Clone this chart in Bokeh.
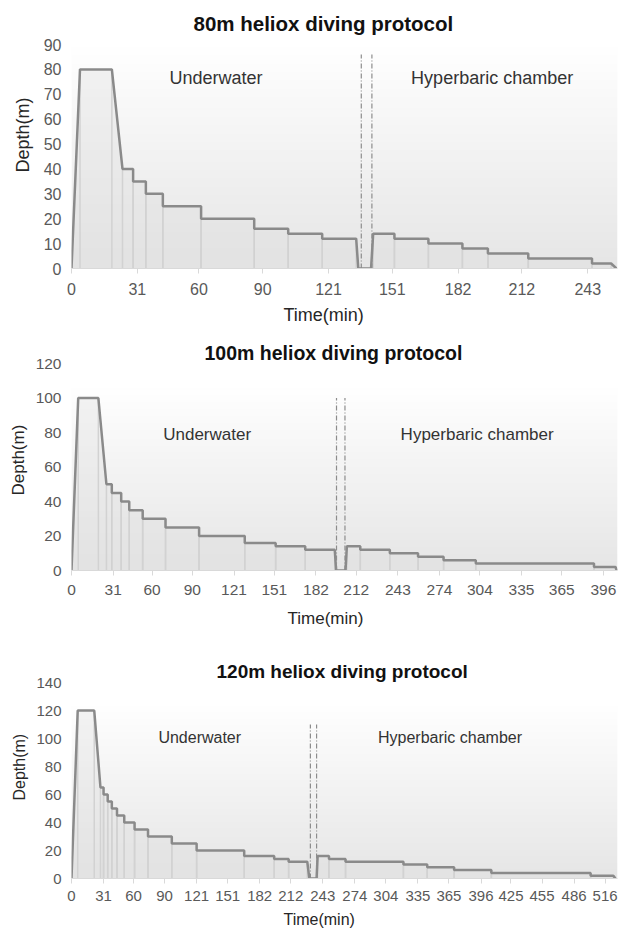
import numpy as np
from bokeh.plotting import figure
from bokeh.layouts import column
from bokeh.models import Range1d, FixedTicker, Title
from bokeh.core.properties import value
from bokeh.embed import file_html
from bokeh.resources import INLINE

FONT = "Liberation Sans"

# ---------------- data ----------------
# 80 m heliox protocol (time in min, depth in m)
time_80 = [0, 4, 19, 24, 29, 29, 35, 35, 43, 43, 61, 61, 86, 86, 102, 102, 118, 118,
           134, 135, 141, 142, 152, 152, 168, 168, 184, 184, 196, 196, 215, 215,
           245, 245, 254, 256.5]
depth_80 = [0, 80, 80, 40, 40, 35, 35, 30, 30, 25, 25, 20, 20, 16, 16, 14, 14, 12,
            12, 0, 0, 14, 14, 12, 12, 10, 10, 8, 8, 6, 6, 4,
            4, 2, 2, 0]
transfer_80 = [136.4, 141.4]
transfer_top_80 = [86, 86]
ticks_80 = [0, 31, 60, 90, 121, 151, 182, 212, 243]

# 100 m heliox protocol
time_100 = [0, 5, 20, 26, 30, 30, 37, 37, 43, 43, 53, 53, 70, 70, 95, 95, 129, 129,
            152, 152, 174, 174, 196, 197, 204, 205, 215, 215, 237, 237, 258, 258,
            277, 277, 301, 301, 389, 389, 405, 406]
depth_100 = [0, 100, 100, 50, 50, 45, 45, 40, 40, 35, 35, 30, 30, 25, 25, 20, 20, 16,
             16, 14, 14, 12, 12, 0, 0, 14, 14, 12, 12, 10, 10, 8,
             8, 6, 6, 4, 4, 2, 2, 0]
transfer_100 = [197.3, 203.6]
transfer_top_100 = [100, 100]
ticks_100 = [0, 31, 60, 90, 121, 151, 182, 212, 243, 274, 304, 335, 365, 396]

# 120 m heliox protocol
time_120 = [0, 6, 22, 28, 31, 31, 35, 35, 39, 39, 44, 44, 51, 51, 61, 61, 74, 74,
            97, 97, 121, 121, 167, 167, 196, 196, 210, 210, 228, 230, 237, 238,
            249, 249, 265, 265, 321, 321, 344, 344, 370, 370, 406, 406, 502, 502,
            524, 526]
depth_120 = [0, 120, 120, 65, 65, 60, 60, 55, 55, 50, 50, 45, 45, 40, 40, 35, 35, 30,
             30, 25, 25, 20, 20, 16, 16, 14, 14, 12, 12, 0, 0, 16,
             16, 14, 14, 12, 12, 10, 10, 8, 8, 6, 6, 4, 4, 2,
             2, 0]
transfer_120 = [231, 237]
transfer_top_120 = [110, 110]
ticks_120 = [0, 31, 60, 90, 121, 151, 182, 212, 243, 274, 304, 335, 365, 396, 425,
             455, 486, 516]

phase_labels = ["Underwater", "Hyperbaric chamber"]
phase_x_80, phase_y_80 = [68, 198], [76.7, 76.7]
phase_x_100, phase_y_100 = [101, 302], [79, 79]
phase_x_120, phase_y_120 = [124, 366], [100.7, 100.7]


def gradient_image(n=80, bottom=230):
    vals = np.linspace(bottom, 255, n).astype(np.uint32)
    img = vals | (vals << 8) | (vals << 16) | (np.uint32(255) << 24)
    return img.reshape(n, 1)


def panel(title, t, d, tr, tr_top, ticks, px, py, xmax, ymax, ystep, grad_top,
          height, borders, title_off, title_standoff, xl_off, xl_standoff,
          yl_off, yl_standoff, fs_title, fs_label, fs_tick, tick_standoff):
    left, right, top, bottom = borders
    p = figure(width=625, height=height, output_backend="svg", toolbar_location=None,
               x_range=Range1d(0, xmax), y_range=Range1d(0, ymax),
               min_border_left=left, min_border_right=right,
               min_border_top=top, min_border_bottom=bottom)
    p.outline_line_color = None
    p.background_fill_color = "white"
    p.border_fill_color = "white"
    p.grid.visible = False

    # plot-area gradient
    p.image_rgba(image=[gradient_image()], x=0, y=0, dw=xmax, dh=grad_top)

    # profile area, drop lines, profile
    p.varea(x=t, y1=[0] * len(t), y2=d, fill_color="#dcdcdc", fill_alpha=0.35)
    tt = [a for a, b in zip(t, d) if b > 0]
    dd = [b for b in d if b > 0]
    p.segment(x0=tt, y0=[0] * len(tt), x1=tt, y1=dd, line_color="#d2d2d2", line_width=1.5)
    p.line(t, d, line_color="#8a8a8a", line_width=2.5)

    # transfer (dash-dot) markers
    p.segment(x0=tr, y0=[0, 0], x1=tr, y1=tr_top, line_color="#8c8c8c",
              line_width=1.2, line_dash="5 2 1 2")

    p.text(x=px, y=py, text=phase_labels, text_align="center", text_baseline="middle",
           text_font=value(FONT), text_font_size=f"{fs_label}px", text_color="#333333")

    # axes
    xa = p.xaxis[0]
    xa.ticker = FixedTicker(ticks=ticks)
    xa.axis_line_color = "#d9d9d9"
    xa.major_tick_line_color = "#d9d9d9"
    xa.major_tick_out = 5
    xa.major_tick_in = 0
    xa.minor_tick_line_color = None
    xa.major_label_standoff = tick_standoff
    xa.major_label_text_font = FONT
    xa.major_label_text_font_size = f"{fs_tick}px"
    xa.major_label_text_color = "#595959"

    ya = p.yaxis[0]
    ya.ticker = FixedTicker(ticks=list(range(0, ymax + 1, ystep)))
    ya.axis_line_color = None
    ya.major_tick_line_color = None
    ya.minor_tick_line_color = None
    ya.major_tick_out = 0
    ya.major_label_standoff = 10
    ya.major_label_text_font = FONT
    ya.major_label_text_font_size = f"{fs_tick}px"
    ya.major_label_text_color = "#595959"

    p.title = Title(text=title, align="left", offset=title_off, standoff=title_standoff,
                    text_font=FONT, text_font_size=f"{fs_title}px",
                    text_font_style="bold", text_color="#111111")
    p.add_layout(Title(text="Time(min)", align="left", offset=xl_off,
                       standoff=xl_standoff, text_font=FONT,
                       text_font_size=f"{fs_label}px", text_font_style="normal",
                       text_color="#262626"), "below")
    p.add_layout(Title(text="Depth(m)", align="left", offset=yl_off,
                       standoff=yl_standoff, text_font=FONT,
                       text_font_size=f"{fs_label}px", text_font_style="normal",
                       text_color="#262626"), "left")
    return p


p1 = panel("80m heliox diving protocol", time_80, depth_80, transfer_80, transfer_top_80,
           ticks_80, phase_x_80, phase_y_80, 257, 90, 10, 90,
           334, (71, 5, 43, 66), 122, 19, 212, 11, 96, 15, 20.5, 18, 16, 9)
p2 = panel("100m heliox diving protocol", time_100, depth_100, transfer_100,
           transfer_top_100, ticks_100, phase_x_100, phase_y_100, 406.5, 120, 20, 106,
           306, (71, 8, 29, 70), 133, 0, 216, 18, 75, 10, 19.5, 17, 15.5, 9)
p3 = panel("120m heliox diving protocol", time_120, depth_120, transfer_120,
           transfer_top_120, ticks_120, phase_x_120, phase_y_120, 528, 140, 20, 124,
           296, (71, 8, 42, 58), 145, 1, 212, 10, 78, 11, 19, 16, 15, 7)

layout = column(p1, p2, p3)
open("out.html", "w").write(file_html(layout, INLINE))
